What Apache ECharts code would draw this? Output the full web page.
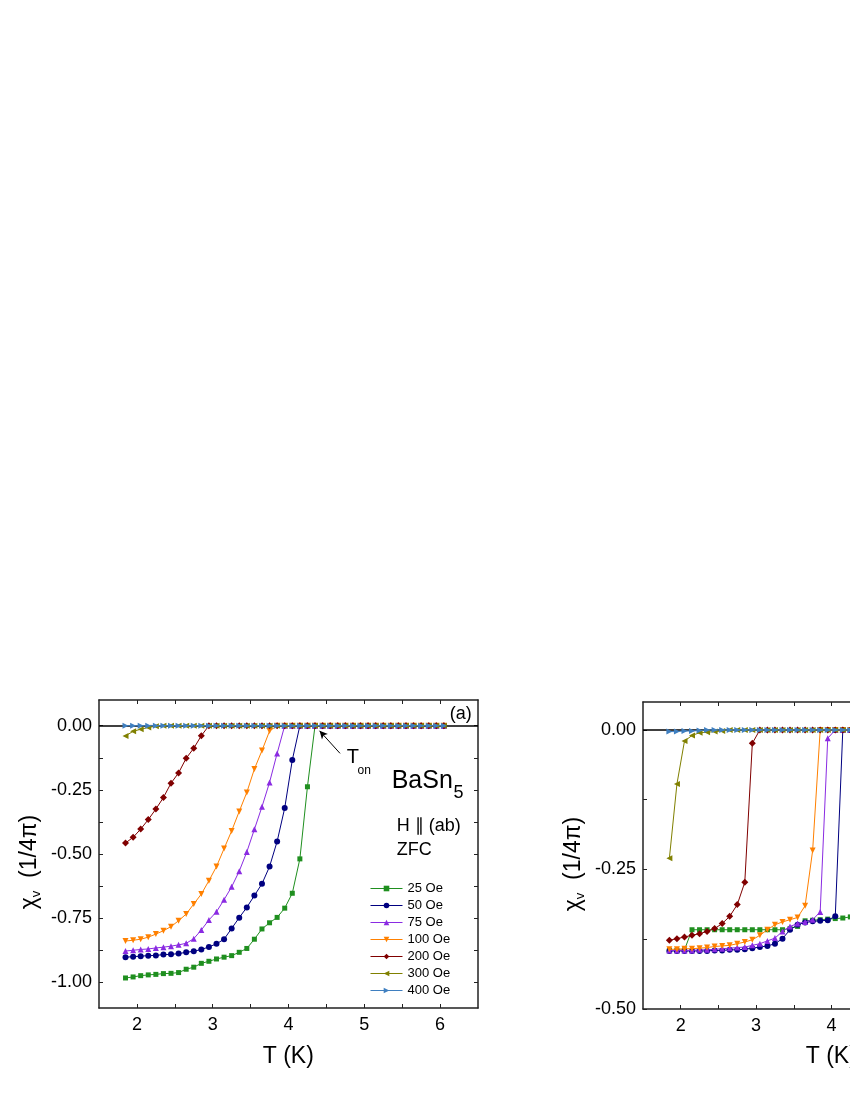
<!DOCTYPE html>
<html>
<head>
<meta charset="utf-8">
<script src="https://cdn.jsdelivr.net/npm/echarts@6/dist/echarts.min.js"></script>
<style>
  html, body { margin: 0; padding: 0; overflow: hidden; background: #fff; }
  #chart { position: absolute; left: 0; top: 0; width: 1100px; height: 1100px; }
</style>
</head>
<body>
<div id="chart"></div>
<script>
// temperature grid (K)
const temps = [1.85, 1.95, 2.05, 2.15, 2.25, 2.35, 2.45, 2.55, 2.65, 2.75, 2.85,
  2.95, 3.05, 3.15, 3.25, 3.35, 3.45, 3.55, 3.65, 3.75, 3.85, 3.95, 4.05, 4.15,
  4.25, 4.35, 4.45, 4.55, 4.65, 4.75, 4.85, 4.95, 5.05, 5.15, 5.25, 5.35, 5.45,
  5.55, 5.65, 5.75, 5.85, 5.95, 6.05];

const fieldNames = ['25 Oe', '50 Oe', '75 Oe', '100 Oe', '200 Oe', '300 Oe', '400 Oe'];

// panel (a): H || (ab), ZFC
const ab25 = [-0.983, -0.979, -0.974, -0.971, -0.969, -0.966, -0.965, -0.962, -0.949, -0.941, -0.926,
  -0.918, -0.909, -0.902, -0.896, -0.883, -0.868, -0.832, -0.792, -0.768, -0.747, -0.711, -0.653, -0.519,
  -0.238, 0, 0, 0, 0, 0, 0, 0, 0, 0, 0, 0, 0, 0, 0, 0, 0, 0, 0];
const ab50 = [-0.902, -0.900, -0.898, -0.896, -0.895, -0.892, -0.891, -0.888, -0.883, -0.879, -0.872,
  -0.862, -0.850, -0.832, -0.790, -0.748, -0.708, -0.662, -0.616, -0.549, -0.451, -0.321, -0.134, 0,
  0, 0, 0, 0, 0, 0, 0, 0, 0, 0, 0, 0, 0, 0, 0, 0, 0, 0, 0];
const ab75 = [-0.878, -0.875, -0.872, -0.870, -0.866, -0.863, -0.859, -0.854, -0.848, -0.830, -0.796,
  -0.757, -0.725, -0.678, -0.628, -0.567, -0.492, -0.404, -0.316, -0.221, -0.108, 0, 0, 0,
  0, 0, 0, 0, 0, 0, 0, 0, 0, 0, 0, 0, 0, 0, 0, 0, 0, 0, 0];
const ab100 = [-0.839, -0.836, -0.832, -0.824, -0.812, -0.799, -0.783, -0.760, -0.734, -0.695, -0.656,
  -0.604, -0.549, -0.479, -0.410, -0.334, -0.260, -0.169, -0.097, -0.021, 0, 0, 0, 0,
  0, 0, 0, 0, 0, 0, 0, 0, 0, 0, 0, 0, 0, 0, 0, 0, 0, 0, 0];
const ab200 = [-0.457, -0.435, -0.403, -0.366, -0.325, -0.280, -0.224, -0.184, -0.127, -0.088, -0.039,
  0, 0, 0, 0, 0, 0, 0, 0, 0, 0, 0, 0, 0,
  0, 0, 0, 0, 0, 0, 0, 0, 0, 0, 0, 0, 0, 0, 0, 0, 0, 0, 0];
const ab300 = [-0.040, -0.022, -0.014, -0.007, -0.002, 0, 0, 0, 0, 0, 0,
  0, 0, 0, 0, 0, 0, 0, 0, 0, 0, 0, 0, 0,
  0, 0, 0, 0, 0, 0, 0, 0, 0, 0, 0, 0, 0, 0, 0, 0, 0, 0, 0];
const ab400 = [0, 0, 0, 0, 0, 0, 0, 0, 0, 0, 0,
  0, 0, 0, 0, 0, 0, 0, 0, 0, 0, 0, 0, 0,
  0, 0, 0, 0, 0, 0, 0, 0, 0, 0, 0, 0, 0, 0, 0, 0, 0, 0, 0];

// panel (b)
const pb25 = [-0.395, -0.395, -0.394, -0.358, -0.358, -0.358, -0.358, -0.358, -0.358, -0.358, -0.358,
  -0.358, -0.358, -0.358, -0.358, -0.358, -0.356, -0.352, -0.342, -0.341, -0.340, -0.339, -0.338, -0.337,
  -0.335, -0.334, 0, 0, 0, 0, 0, 0, 0, 0, 0, 0, 0, 0, 0, 0, 0, 0, 0];
const pb50 = [-0.396, -0.396, -0.396, -0.396, -0.396, -0.396, -0.395, -0.395, -0.394, -0.394, -0.393,
  -0.391, -0.389, -0.387, -0.383, -0.374, -0.358, -0.349, -0.345, -0.343, -0.342, -0.341, -0.334, 0,
  0, 0, 0, 0, 0, 0, 0, 0, 0, 0, 0, 0, 0, 0, 0, 0, 0, 0, 0];
const pb75 = [-0.395, -0.395, -0.395, -0.395, -0.394, -0.394, -0.393, -0.392, -0.391, -0.390, -0.389,
  -0.386, -0.383, -0.378, -0.373, -0.361, -0.352, -0.347, -0.344, -0.340, -0.326, -0.015, 0, 0,
  0, 0, 0, 0, 0, 0, 0, 0, 0, 0, 0, 0, 0, 0, 0, 0, 0, 0, 0];
const pb100 = [-0.393, -0.393, -0.392, -0.392, -0.391, -0.390, -0.388, -0.387, -0.386, -0.383, -0.380,
  -0.376, -0.368, -0.358, -0.349, -0.344, -0.340, -0.336, -0.315, -0.216, 0, 0, 0, 0,
  0, 0, 0, 0, 0, 0, 0, 0, 0, 0, 0, 0, 0, 0, 0, 0, 0, 0, 0];
const pb200 = [-0.377, -0.374, -0.371, -0.368, -0.365, -0.361, -0.356, -0.347, -0.334, -0.313, -0.273,
  -0.024, 0, 0, 0, 0, 0, 0, 0, 0, 0, 0, 0, 0,
  0, 0, 0, 0, 0, 0, 0, 0, 0, 0, 0, 0, 0, 0, 0, 0, 0, 0, 0];
const pb300 = [-0.230, -0.097, -0.020, -0.010, -0.005, -0.004, -0.003, -0.002, 0, 0, 0,
  0, 0, 0, 0, 0, 0, 0, 0, 0, 0, 0, 0, 0,
  0, 0, 0, 0, 0, 0, 0, 0, 0, 0, 0, 0, 0, 0, 0, 0, 0, 0, 0];
const pb400 = [-0.003, -0.003, -0.002, -0.002, -0.001, 0, 0, 0, 0, 0, 0,
  0, 0, 0, 0, 0, 0, 0, 0, 0, 0, 0, 0, 0,
  0, 0, 0, 0, 0, 0, 0, 0, 0, 0, 0, 0, 0, 0, 0, 0, 0, 0, 0];

// axis ticks / labels
const xTicks = [2, 2.5, 3, 3.5, 4, 4.5, 5, 5.5, 6];
const xLabels = [2, 3, 4, 5, 6];
const yTicksA = [-1, -0.875, -0.75, -0.625, -0.5, -0.375, -0.25, -0.125, 0];
const yLabelsA = [-1, -0.75, -0.5, -0.25, 0];
const yTicksB = [-0.5, -0.375, -0.25, -0.125, 0];
const yLabelsB = [-0.5, -0.25, 0];

const colors = ['#1f8f1f', '#000080', '#8a2be2', '#ff8000', '#800000', '#808000', '#3f7fc0'];
const symbols = ['rect', 'circle', 'triangle', 'triangle', 'diamond', 'triangle', 'triangle'];
const rotates = [0, 0, 0, 180, 0, 90, -90];
const sizes = [5, 6, 6, 6, 7, 6, 6];

const FONT = '"Liberation Sans", Arial, sans-serif';
const AX = '#222';

function xAxisPair(grid) {
  const base = {
    gridIndex: grid, type: 'value', min: 1.5, max: 6.5,
    axisLine: { show: true, onZero: false, lineStyle: { color: AX, width: 1.5 } },
    axisTick: { show: true, inside: true, length: 4, customValues: xTicks, lineStyle: { color: AX, width: 1 } },
    splitLine: { show: false }
  };
  return [
    Object.assign({}, base, {
      position: 'bottom',
      axisLabel: { customValues: xLabels, fontSize: 18, fontFamily: FONT, color: '#000', margin: 8 }
    }),
    Object.assign({}, base, { position: 'top', axisLabel: { show: false } })
  ];
}

function yAxisPair(grid, min, max, ticks, labels) {
  const base = {
    gridIndex: grid, type: 'value', min: min, max: max,
    axisLine: { show: true, onZero: false, lineStyle: { color: AX, width: 1.5 } },
    axisTick: { show: true, inside: true, length: 4, customValues: ticks, lineStyle: { color: AX, width: 1 } },
    splitLine: { show: false }
  };
  return [
    Object.assign({}, base, {
      position: 'left',
      axisLabel: { customValues: labels, fontSize: 18, fontFamily: FONT, color: '#000', margin: 7,
        formatter: v => v.toFixed(2) }
    }),
    Object.assign({}, base, { position: 'right', axisLabel: { show: false } })
  ];
}

function makeSeries(arrs, xIdx, yIdx) {
  return arrs.map((arr, k) => ({
    name: fieldNames[k],
    type: 'line',
    xAxisIndex: xIdx, yAxisIndex: yIdx,
    data: temps.map((t, i) => [t, arr[i]]),
    symbol: symbols[k], symbolRotate: rotates[k], symbolSize: sizes[k],
    showSymbol: true,
    lineStyle: { width: 1, color: colors[k] },
    itemStyle: { color: colors[k] },
    z: 3 + k
  }));
}

const seriesA = makeSeries([ab25, ab50, ab75, ab100, ab200, ab300, ab400], 0, 0);
const seriesB = makeSeries([pb25, pb50, pb75, pb100, pb200, pb300, pb400], 2, 2);

// zero line + T_on arrow
seriesA[6].markLine = {
  silent: true, z: 1, symbol: ['none', 'none'], label: { show: false },
  data: [
    { yAxis: 0, lineStyle: { color: '#000', width: 1.5, type: 'solid' } },
    [
      { coord: [4.68, -0.108], lineStyle: { color: '#000', width: 1, type: 'solid' } },
      { coord: [4.41, -0.02], symbol: 'arrow', symbolSize: [6, 8] }
    ]
  ]
};
seriesB[6].markLine = {
  silent: true, z: 1, symbol: ['none', 'none'], label: { show: false },
  data: [{ yAxis: 0, lineStyle: { color: '#000', width: 1.5, type: 'solid' } }]
};

const chart = echarts.init(document.getElementById('chart'), null, { renderer: 'canvas' });

const txt = (x, y, text, size, align, extra) => Object.assign({
  type: 'text', x: x, y: y, silent: true,
  style: { text: text, fill: '#000', font: size + 'px ' + FONT, align: align || 'left', verticalAlign: 'middle' }
}, extra || {});

// text width helper for the rotated axis titles
const measureCtx = document.createElement('canvas').getContext('2d');
const textW = (s, size) => { measureCtx.font = size + 'px ' + FONT; return measureCtx.measureText(s).width; };

// rotated "χv (1/4π)" centred at (cx, cy), reading bottom to top
function yTitle(cx, cy) {
  const wChi = textW('χ', 23), wSub = textW('v', 13), wRest = textW('  (1/4π)', 23);
  const start = cy + (wChi + wSub + wRest) / 2;
  const rot = { rotation: Math.PI / 2 };
  return [
    txt(cx, start, 'χ', 23, 'left', rot),
    txt(cx + 6, start - wChi, 'v', 13, 'left', rot),
    txt(cx, start - wChi - wSub, '  (1/4π)', 23, 'left', rot)
  ];
}

chart.setOption({
  animation: false,
  backgroundColor: '#fff',
  grid: [
    { left: 99, top: 700, width: 379, height: 308 },
    { left: 643, top: 702, width: 377, height: 307 }
  ],
  xAxis: xAxisPair(0).concat(xAxisPair(1)),
  yAxis: yAxisPair(0, -1.1, 0.1, yTicksA, yLabelsA).concat(yAxisPair(1, -0.5, 0.05, yTicksB, yLabelsB)),
  legend: {
    orient: 'vertical', left: 370, top: 882, padding: 0,
    itemWidth: 32, itemHeight: 7, itemGap: 4,
    lineStyle: { width: 1 },
    textStyle: { fontSize: 13, fontFamily: FONT, color: '#000' },
    data: fieldNames
  },
  series: seriesA.concat(seriesB),
  graphic: [
    txt(460.8, 714.3, '(a)', 18, 'center'),
    txt(391.7, 780.7, 'BaSn', 25),
    txt(453.5, 793.3, '5', 18),
    txt(396.7, 826.3, 'H ∥ (ab)', 18),
    txt(396.7, 849.7, 'ZFC', 18),
    txt(346.7, 757.8, 'T', 20),
    txt(357.5, 770.5, 'on', 12),
    txt(288.3, 1056.7, 'T (K)', 23, 'center'),
    txt(831.3, 1056.7, 'T (K)', 23, 'center')
  ].concat(yTitle(30, 862), yTitle(574, 864))
});
</script>
</body>
</html>
